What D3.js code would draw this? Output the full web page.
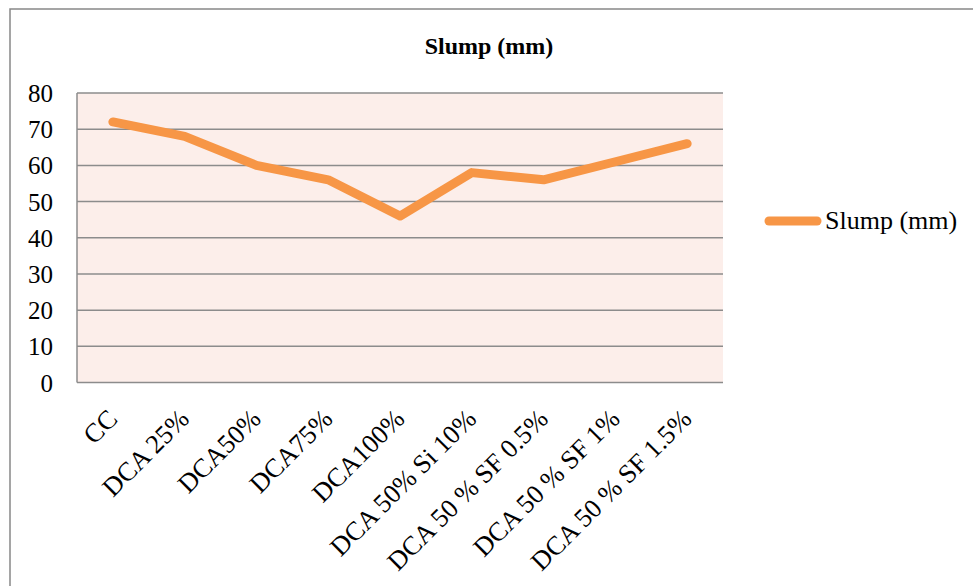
<!DOCTYPE html>
<html>
<head>
<meta charset="utf-8">
<script src="https://cdn.jsdelivr.net/npm/d3@7/dist/d3.min.js"></script>
<style>
  html, body { margin: 0; padding: 0; background: #fff; }
  svg { display: block; }
</style>
</head>
<body>
<svg id="chart" width="973" height="586"></svg>
<script>
// Slump test results per concrete mix
const categories = ["CC", "DCA 25%", "DCA50%", "DCA75%", "DCA100%", "DCA 50% Si 10%", "DCA 50 % SF 0.5%", "DCA 50 % SF 1%", "DCA 50 % SF 1.5%"];
const slump = [72, 68, 60, 56, 46, 58, 56, 61, 66];
const yTicks = [0, 10, 20, 30, 40, 50, 60, 70, 80];
const seriesName = "Slump (mm)";

const font = "'Liberation Serif', 'Times New Roman', serif";
const svg = d3.select("#chart");

// outer chart frame
svg.append("rect")
  .attr("x", 10).attr("y", 9).attr("width", 980).attr("height", 600)
  .attr("fill", "none").attr("stroke", "#888").attr("stroke-width", 1.5);

const plot = { left: 77, right: 723, top: 93, bottom: 382.5 };

const x = d3.scaleBand().domain(categories).range([plot.left, plot.right]);
const y = d3.scaleLinear().domain([0, 80]).range([plot.bottom, plot.top]);

// plot background
svg.append("rect")
  .attr("x", plot.left).attr("y", plot.top)
  .attr("width", plot.right - plot.left).attr("height", plot.bottom - plot.top)
  .attr("fill", "#FCEEEA");

// horizontal gridlines
svg.append("g").selectAll("line").data(yTicks).join("line")
  .attr("x1", plot.left).attr("x2", plot.right)
  .attr("y1", d => y(d)).attr("y2", d => y(d))
  .attr("stroke", "#8c8c8c").attr("stroke-width", 1.5);

// left axis line
svg.append("line")
  .attr("x1", plot.left).attr("x2", plot.left)
  .attr("y1", plot.top).attr("y2", plot.bottom)
  .attr("stroke", "#8c8c8c").attr("stroke-width", 1.5);

// y axis labels
const yAxis = d3.axisLeft(y).tickValues(yTicks).tickSize(0).tickPadding(0);
const yg = svg.append("g").attr("transform", `translate(53,0)`).call(yAxis);
yg.select(".domain").remove();
yg.selectAll("text")
  .attr("font-family", font).attr("font-size", 25).attr("fill", "#000")
  .attr("dy", "0.34em");

// x axis labels, rotated
const xAxis = d3.axisBottom(x).tickSize(0).tickPadding(0);
const xg = svg.append("g").attr("transform", `translate(0,${plot.bottom})`).call(xAxis);
xg.select(".domain").remove();
xg.selectAll("text")
  .attr("font-family", font).attr("font-size", 26.5).attr("fill", "#000")
  .attr("text-anchor", "end")
  .attr("dy", null).attr("y", 0)
  .attr("transform", "translate(6,38) rotate(-45)");

// series line
const line = d3.line()
  .x((d, i) => x(categories[i]) + x.bandwidth() / 2)
  .y(d => y(d));
svg.append("path")
  .datum(slump)
  .attr("d", line)
  .attr("fill", "none")
  .attr("stroke", "#F79646")
  .attr("stroke-width", 9)
  .attr("stroke-linecap", "round")
  .attr("stroke-linejoin", "round");

// title
svg.append("text")
  .attr("x", 489).attr("y", 54)
  .attr("text-anchor", "middle")
  .attr("font-family", font).attr("font-size", 24).attr("font-weight", "bold")
  .text(seriesName);

// legend
svg.append("line")
  .attr("x1", 769).attr("x2", 817).attr("y1", 221).attr("y2", 221)
  .attr("stroke", "#F79646").attr("stroke-width", 9).attr("stroke-linecap", "round");
svg.append("text")
  .attr("x", 825).attr("y", 229)
  .attr("font-family", font).attr("font-size", 26)
  .text(seriesName);
</script>
</body>
</html>
